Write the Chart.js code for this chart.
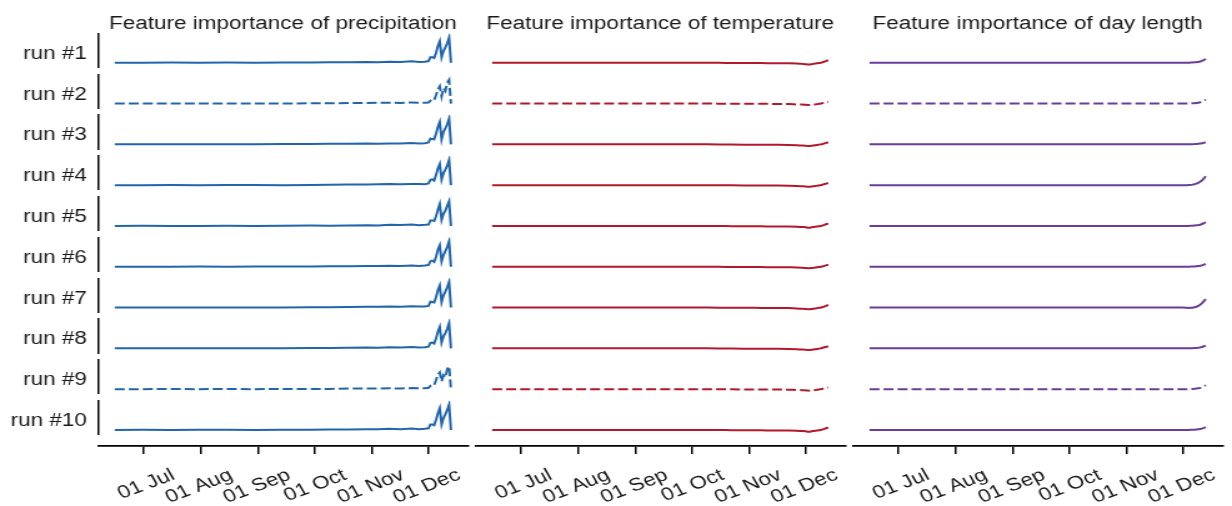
<!DOCTYPE html>
<html lang="en">
<head>
  <meta charset="UTF-8" />
  <title>Feature importance per run</title>
  <script src="https://cdn.jsdelivr.net/npm/chart.js"></script>
  <style>
    html, body { margin: 0; padding: 0; background: #fff; overflow: hidden; }
    /* the figure is drawn 986px wide and stretched to the 1232px window */
    #wrap { width: 986px; height: 506px; transform: scaleX(1.2495); transform-origin: 0 0; }
  </style>
</head>
<body>
<div id="wrap"><canvas id="chart" width="986" height="506"></canvas></div>

<script>
  // panel titles, row labels and date ticks (days counted from 1 June)
  const panelTitles = ['Feature importance of precipitation', 'Feature importance of temperature', 'Feature importance of day length'];
  const runLabels = ['run #1', 'run #2', 'run #3', 'run #4', 'run #5', 'run #6', 'run #7', 'run #8', 'run #9', 'run #10'];
  const tickDays = [30, 61, 92, 122, 153, 183];
  const tickLabels = ['01 Jul', '01 Aug', '01 Sep', '01 Oct', '01 Nov', '01 Dec'];
  const dashedRuns = [2, 9];
  const featureColors = ['#2166ac', '#b2182b', '#6a3d9a'];

  // sample days shared by every series
  const days = [15, 30, 45, 60, 75, 90, 105, 120, 130, 140, 150, 156, 162, 168, 174, 178, 181, 183, 184, 185, 186, 187, 188, 189, 190, 191, 192, 193, 194, 195];

  const precipitation = [
    [0, 0, 0.005, 0, 0.005, 0, 0.005, 0.01, 0.015, 0.02, 0.03, 0.02, 0.04, 0.03, 0.05, 0.03, 0.04, 0.06, 0.2, 0.2, 0.17, 0.35, 0.6, 0.77, 0.2, 0.42, 0.55, 0.7, 0.9, 0],
    [0, 0, 0, 0.005, 0, 0.005, 0, 0.01, 0.01, 0.02, 0.02, 0.03, 0.03, 0.02, 0.04, 0.03, 0.03, 0.04, 0.1, 0.15, 0.12, 0.3, 0.5, 0.62, 0.25, 0.55, 0.45, 0.75, 0.85, 0],
    [0, 0.005, 0, 0.005, 0, 0.005, 0.01, 0.01, 0.02, 0.02, 0.03, 0.025, 0.035, 0.03, 0.045, 0.035, 0.04, 0.07, 0.21, 0.19, 0.18, 0.38, 0.62, 0.8, 0.18, 0.45, 0.57, 0.72, 0.92, 0],
    [0, 0, 0.005, 0, 0.005, 0.005, 0, 0.01, 0.015, 0.025, 0.02, 0.03, 0.04, 0.03, 0.04, 0.04, 0.035, 0.06, 0.19, 0.21, 0.16, 0.36, 0.6, 0.76, 0.2, 0.43, 0.56, 0.7, 0.9, 0],
    [0, 0.005, 0, 0, 0.005, 0, 0.005, 0.015, 0.01, 0.02, 0.03, 0.02, 0.04, 0.035, 0.05, 0.03, 0.04, 0.05, 0.2, 0.2, 0.18, 0.34, 0.58, 0.78, 0.22, 0.44, 0.55, 0.72, 0.88, 0],
    [0, 0, 0, 0.005, 0, 0.005, 0.005, 0.01, 0.02, 0.015, 0.03, 0.025, 0.04, 0.03, 0.045, 0.03, 0.045, 0.06, 0.2, 0.22, 0.17, 0.35, 0.61, 0.77, 0.19, 0.42, 0.56, 0.71, 0.91, 0],
    [0, 0.005, 0.005, 0, 0, 0.005, 0, 0.01, 0.015, 0.02, 0.025, 0.03, 0.035, 0.03, 0.05, 0.035, 0.04, 0.06, 0.21, 0.2, 0.18, 0.37, 0.62, 0.79, 0.2, 0.44, 0.57, 0.73, 0.92, 0],
    [0, 0, 0.005, 0.005, 0, 0, 0.005, 0.01, 0.015, 0.02, 0.03, 0.02, 0.04, 0.03, 0.05, 0.03, 0.04, 0.06, 0.2, 0.21, 0.17, 0.35, 0.6, 0.77, 0.21, 0.43, 0.55, 0.7, 0.9, 0],
    [0, 0, 0.005, 0, 0.005, 0, 0.005, 0.01, 0.01, 0.02, 0.02, 0.025, 0.03, 0.025, 0.04, 0.03, 0.035, 0.05, 0.12, 0.16, 0.14, 0.32, 0.52, 0.6, 0.28, 0.5, 0.42, 0.72, 0.82, 0],
    [0, 0.005, 0, 0.005, 0.005, 0, 0.005, 0.01, 0.02, 0.02, 0.03, 0.025, 0.04, 0.03, 0.05, 0.03, 0.04, 0.06, 0.2, 0.2, 0.17, 0.36, 0.6, 0.78, 0.2, 0.43, 0.56, 0.72, 0.91, 0]
  ];

  const temperature = [
    [0, 0, 0, 0, 0, 0, 0, 0, 0, -0.005, -0.01, -0.01, -0.015, -0.015, -0.02, -0.03, -0.04, -0.05, -0.06, -0.06, -0.05, -0.04, -0.03, -0.02, -0.01, 0, 0.02, 0.04, 0.07, 0.08],
    [0, 0, 0, 0, 0, 0, 0, 0, 0, -0.005, -0.01, -0.01, -0.01, -0.015, -0.02, -0.03, -0.035, -0.045, -0.05, -0.055, -0.05, -0.04, -0.03, -0.02, -0.01, 0, 0.015, 0.03, 0.05, 0.06],
    [0, 0, 0, 0, 0, 0, 0, 0, 0, -0.005, -0.01, -0.01, -0.015, -0.015, -0.02, -0.03, -0.04, -0.05, -0.06, -0.06, -0.05, -0.04, -0.03, -0.02, -0.01, 0, 0.015, 0.035, 0.06, 0.07],
    [0, 0, 0, 0, 0, 0, 0, 0, 0, -0.005, -0.01, -0.01, -0.015, -0.015, -0.02, -0.03, -0.04, -0.05, -0.06, -0.06, -0.05, -0.04, -0.03, -0.02, -0.01, 0, 0.02, 0.04, 0.06, 0.07],
    [0, 0, 0, 0, 0, 0, 0, 0, 0, -0.005, -0.01, -0.01, -0.015, -0.015, -0.02, -0.03, -0.04, -0.05, -0.06, -0.06, -0.05, -0.04, -0.03, -0.02, -0.01, 0, 0.02, 0.04, 0.07, 0.08],
    [0, 0, 0, 0, 0, 0, 0, 0, 0, -0.005, -0.01, -0.01, -0.015, -0.015, -0.02, -0.025, -0.035, -0.045, -0.05, -0.05, -0.045, -0.04, -0.03, -0.02, -0.01, 0, 0.015, 0.03, 0.06, 0.07],
    [0, 0, 0, 0, 0, 0, 0, 0, 0, -0.005, -0.01, -0.01, -0.015, -0.015, -0.02, -0.03, -0.04, -0.05, -0.06, -0.06, -0.05, -0.04, -0.03, -0.02, -0.01, 0, 0.02, 0.04, 0.07, 0.09],
    [0, 0, 0, 0, 0, 0, 0, 0, 0, -0.005, -0.01, -0.01, -0.015, -0.015, -0.02, -0.03, -0.04, -0.05, -0.06, -0.06, -0.05, -0.04, -0.03, -0.02, -0.01, 0, 0.02, 0.04, 0.06, 0.07],
    [0, 0, 0, 0, 0, 0, 0, 0, 0, -0.005, -0.01, -0.01, -0.01, -0.015, -0.02, -0.03, -0.035, -0.045, -0.05, -0.055, -0.05, -0.04, -0.03, -0.02, -0.01, 0, 0.015, 0.03, 0.05, 0.06],
    [0, 0, 0, 0, 0, 0, 0, 0, 0, -0.005, -0.01, -0.01, -0.015, -0.015, -0.02, -0.03, -0.04, -0.05, -0.06, -0.06, -0.05, -0.04, -0.03, -0.02, -0.01, 0, 0.02, 0.04, 0.07, 0.08]
  ];

  const dayLength = [
    [0, 0, 0, 0, 0, 0, 0, 0, 0, 0, 0, 0, 0, 0, 0, 0, 0, 0, 0, 0, 0.003, 0.006, 0.01, 0.015, 0.022, 0.03, 0.045, 0.07, 0.1, 0.14],
    [0, 0, 0, 0, 0, 0, 0, 0, 0, 0, 0, 0, 0, 0, 0, 0, 0, 0, 0, 0, 0.003, 0.006, 0.01, 0.015, 0.022, 0.03, 0.045, 0.07, 0.1, 0.14],
    [0, 0, 0, 0, 0, 0, 0, 0, 0, 0, 0, 0, 0, 0, 0, 0, 0, 0, 0, 0, 0.002, 0.004, 0.006, 0.01, 0.014, 0.02, 0.028, 0.04, 0.055, 0.07],
    [0, 0, 0, 0, 0, 0, 0, 0, 0, 0, 0, 0, 0, 0, 0, 0, 0, 0, 0, 0, 0.005, 0.01, 0.02, 0.035, 0.055, 0.08, 0.12, 0.17, 0.24, 0.32],
    [0, 0, 0, 0, 0, 0, 0, 0, 0, 0, 0, 0, 0, 0, 0, 0, 0, 0, 0, 0, 0.003, 0.006, 0.01, 0.015, 0.022, 0.03, 0.045, 0.07, 0.1, 0.14],
    [0, 0, 0, 0, 0, 0, 0, 0, 0, 0, 0, 0, 0, 0, 0, 0, 0, 0, 0, 0, 0.002, 0.005, 0.008, 0.012, 0.017, 0.024, 0.035, 0.05, 0.075, 0.1],
    [0, 0, 0, 0, 0, 0, 0, 0, 0, 0, 0, 0, 0, 0, 0, 0, 0, 0, -0.005, -0.01, -0.012, -0.01, -0.005, 0.01, 0.03, 0.06, 0.1, 0.16, 0.23, 0.3],
    [0, 0, 0, 0, 0, 0, 0, 0, 0, 0, 0, 0, 0, 0, 0, 0, 0, 0, 0, 0, 0.002, 0.005, 0.008, 0.012, 0.017, 0.024, 0.035, 0.05, 0.075, 0.1],
    [0, 0, 0, 0, 0, 0, 0, 0, 0, 0, 0, 0, 0, 0, 0, 0, 0, 0, 0, 0, 0.003, 0.006, 0.01, 0.015, 0.022, 0.03, 0.045, 0.07, 0.1, 0.14],
    [0, 0, 0, 0, 0, 0, 0, 0, 0, 0, 0, 0, 0, 0, 0, 0, 0, 0, 0, 0, 0.002, 0.005, 0.008, 0.012, 0.017, 0.024, 0.035, 0.05, 0.075, 0.1]
  ];

  const font = { family: "'Liberation Sans', Arial, sans-serif", size: 18 };
  const textColor = '#1a1a1a';

  // one dataset per run and feature
  const features = [precipitation, temperature, dayLength];
  const datasets = [];
  features.forEach((runs, c) => {
    runs.forEach((vals, r) => {
      datasets.push({
        data: days.map((d, i) => ({ x: d, y: vals[i] })),
        xAxisID: 'x' + (c + 1),
        yAxisID: 'y' + (r + 1),
        borderColor: featureColors[c],
        borderWidth: 2,
        borderDash: dashedRuns.includes(r + 1) ? [8, 3.2] : [],
        pointRadius: 0,
        tension: c === 0 ? 0 : 0.4,
        cubicInterpolationMode: c === 0 ? 'default' : 'monotone',
        fill: false
      });
    });
  });

  // no extra room for labels: the panels keep the sizes given by the stack weights
  const noPadding = s => { s.paddingLeft = 0; s.paddingRight = 0; s.paddingTop = 0; s.paddingBottom = 0; };

  // Chart.js places left and top stacks in reverse order, so those lists are reversed below
  const rowScales = [];
  runLabels.forEach((label, r) => {
    rowScales.push(['y' + (r + 1), {
      type: 'linear', axis: 'y', position: 'left', stack: 'rows', stackWeight: 34,
      min: -0.17, max: 1.05,
      grid: { display: false, drawTicks: false },
      border: { display: true, color: '#000', width: 1.5 },
      ticks: { padding: 8.8, color: textColor, font: font, callback: () => label },
      afterBuildTicks: s => { s.ticks = [{ value: 0.32 }]; },
      afterFit: s => { s.width = 78.4; noPadding(s); }
    }]);
    const gap = r < runLabels.length - 1 ? 6.8 : 11.3;
    rowScales.push(['yg' + (r + 1), { type: 'linear', axis: 'y', position: 'left', stack: 'rows', stackWeight: gap, display: false }]);
  });

  const titleScales = [];
  panelTitles.forEach((title, c) => {
    titleScales.push(['t' + (c + 1), {
      type: 'linear', axis: 'x', position: 'top', stack: 'titles', stackWeight: 296,
      grid: { display: false, drawTicks: false },
      border: { display: false },
      ticks: { display: false },
      title: { display: true, text: title, color: textColor, font: font, padding: { top: 13.5, bottom: 0 } },
      afterFit: s => { s.height = 33.5; noPadding(s); }
    }]);
    if (c < 2) {
      titleScales.push(['tg' + (c + 1), { type: 'linear', axis: 'x', position: 'top', stack: 'titles', stackWeight: 6.08, display: false }]);
    }
  });

  const dateScales = [];
  panelTitles.forEach((title, c) => {
    dateScales.push(['x' + (c + 1), {
      type: 'linear', axis: 'x', position: 'bottom', stack: 'cols', stackWeight: 296,
      min: 6, max: 204,
      grid: { display: true, drawOnChartArea: false, drawTicks: true, tickLength: 8, color: '#000', lineWidth: 1.5 },
      border: { display: true, color: '#000', width: 1.8 },
      ticks: {
        autoSkip: false, minRotation: 25, maxRotation: 25, padding: 10.5, labelOffset: 24.5,
        color: textColor, font: font,
        callback: (v, i) => tickLabels[i]
      },
      afterBuildTicks: s => { s.ticks = tickDays.map(v => ({ value: v })); },
      afterFit: s => { s.height = 60; noPadding(s); }
    }]);
    if (c < 2) {
      dateScales.push(['xg' + (c + 1), { type: 'linear', axis: 'x', position: 'bottom', stack: 'cols', stackWeight: 6.08, display: false }]);
    }
  });

  const scales = Object.fromEntries(rowScales.reverse().concat(titleScales.reverse(), dateScales));

  new Chart(document.getElementById('chart'), {
    type: 'line',
    data: { datasets: datasets },
    options: {
      responsive: false,
      maintainAspectRatio: false,
      animation: false,
      layout: { padding: { left: 0, right: 7.6, top: 0, bottom: 0 } },
      plugins: { legend: { display: false }, title: { display: false }, tooltip: { enabled: false } },
      scales: scales
    }
  });
</script>
</body>
</html>
